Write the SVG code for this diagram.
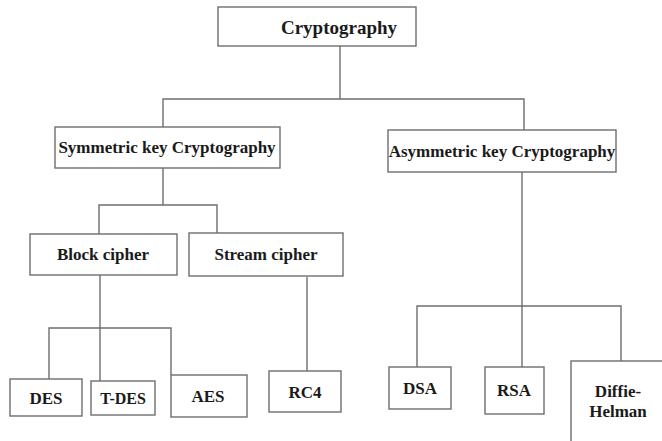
<svg xmlns="http://www.w3.org/2000/svg" width="662" height="441" viewBox="0 0 662 441">
<style>
.box{fill:#fff;stroke:#6e6e6e;stroke-width:1.4}
.ln{fill:none;stroke:#6e6e6e;stroke-width:1.4}
text{font-family:"Liberation Serif","Times New Roman",serif;font-weight:bold;font-size:17px;fill:#1a1a1a;text-anchor:middle}
</style>
<rect width="662" height="441" fill="#fff"/>
<g id="connectors">
<polyline class="ln" points="340,46 340,99"/>
<polyline class="ln" points="163,127 163,99 524,99 524,130"/>
<polyline class="ln" points="163,168 163,205"/>
<polyline class="ln" points="99,234 99,205 217,205 217,233"/>
<polyline class="ln" points="100,275 100,381"/>
<polyline class="ln" points="49,379 49,328 171,328 171,375"/>
<polyline class="ln" points="307,277 307,371"/>
<polyline class="ln" points="522,172 522,367"/>
<polyline class="ln" points="417,367 417,306 621,306 621,361"/>
</g>
<g id="cryptography"><rect class="box" x="218" y="7" width="198" height="39"/><text x="339" y="34" style="font-size:19px">Cryptography</text></g>
<g id="symmetric"><rect class="box" x="55" y="127" width="225" height="41"/><text x="167" y="153">Symmetric key Cryptography</text></g>
<g id="asymmetric"><rect class="box" x="388" y="130" width="228" height="42"/><text x="502" y="157">Asymmetric key Cryptography</text></g>
<g id="block"><rect class="box" x="30" y="234" width="147" height="41"/><text x="103" y="260">Block cipher</text></g>
<g id="stream"><rect class="box" x="189" y="233" width="154" height="43"/><text x="266" y="260">Stream cipher</text></g>
<g id="des"><rect class="box" x="10" y="379" width="72" height="37"/><text x="46" y="404">DES</text></g>
<g id="tdes"><rect class="box" x="91" y="381" width="64" height="34"/><text x="123" y="404" style="font-size:16px">T-DES</text></g>
<g id="aes"><rect class="box" x="171" y="375" width="76" height="42"/><text x="208" y="402">AES</text></g>
<g id="rc4"><rect class="box" x="269" y="371" width="72" height="41"/><text x="305" y="398">RC4</text></g>
<g id="dsa"><rect class="box" x="389" y="367" width="62" height="42"/><text x="420" y="394">DSA</text></g>
<g id="rsa"><rect class="box" x="485" y="367" width="59" height="47"/><text x="514" y="396">RSA</text></g>
<g id="diffie"><rect class="box" x="571" y="361" width="100" height="90"/><text x="618" y="397">Diffie-</text><text x="618" y="417">Helman</text></g>
</svg>
